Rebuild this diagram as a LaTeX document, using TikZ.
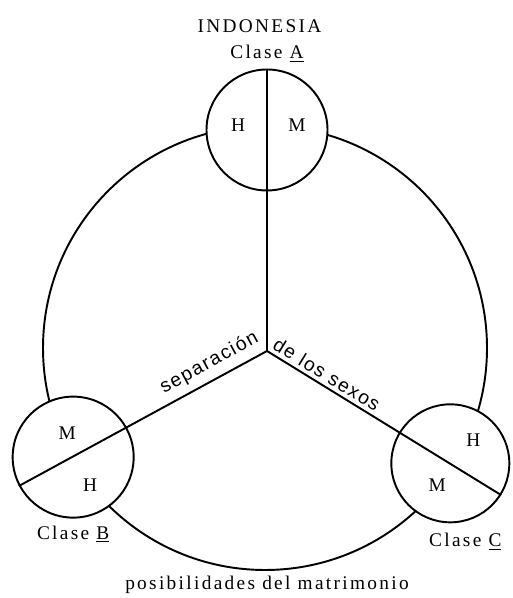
\documentclass[tikz,border=0pt]{standalone}
\usepackage{fontspec}
\setmainfont{Liberation Serif}[LetterSpace=12]
\newfontfamily\sexfont{Liberation Sans}[LetterSpace=8]
\usepackage{tikz}
\usetikzlibrary{positioning,calc}

\begin{document}
\begin{tikzpicture}[x=1cm,y=1cm,font=\fontsize{11}{13}\selectfont,
  rule/.style={line width=1.1pt},
  clase/.style={circle,draw,line width=1.1pt,fill=white,minimum size=2.42cm,inner sep=0pt},
  sexo/.style={font=\sexfont\fontsize{11}{13}\selectfont,sloped,inner sep=2pt}]
\useasboundingbox (0,0) rectangle (10.24,11.96);
\coordinate (O) at (5.34,4.94);
% ring of marriage possibilities
\draw[rule] (5.30,5.00) circle (4.44);
\node[clase] (A) at ($(O)+(90:4.42)$) {};
\node[clase] (B) at ($(O)+(208.7:4.42)$) {};
\node[clase,minimum size=2.36cm] (C) at ($(O)+(328.5:4.30)$) {};
% separation of the sexes
\draw[rule] (A.north) -- (O);
\draw[rule] (B.208.7) -- (O) node[sexo,pos=.80,above=2pt] (sep) {separación};
\draw[rule] (O) -- (C.328.5) node[sexo,pos=.23,above=0pt] (sexos) {de los sexos};
\node (AH) at ($(A)+(-.58,.1)$) {H};
\node (AM) at ($(A)+(.6,.1)$) {M};
\node (BM) at ($(B)+(-.12,.48)$) {M};
\node (BH) at ($(B)+(.34,-.56)$) {H};
\node (CH) at ($(C)+(.46,.46)$) {H};
\node (CM) at ($(C)+(-.26,-.44)$) {M};
\node[above=0pt of A] (lblA) {Clase \underline{A}};
\node[above=0pt of lblA,xshift=-.15cm] (indo) {INDONESIA};
\node[below=.02cm of B] (lblB) {Clase \underline{B}};
\node[below=.08cm of C,xshift=.3cm] (lblC) {Clase \underline{C}};
\node (matr) at (5.34,.26) {posibilidades del matrimonio};
\end{tikzpicture}
\end{document}
